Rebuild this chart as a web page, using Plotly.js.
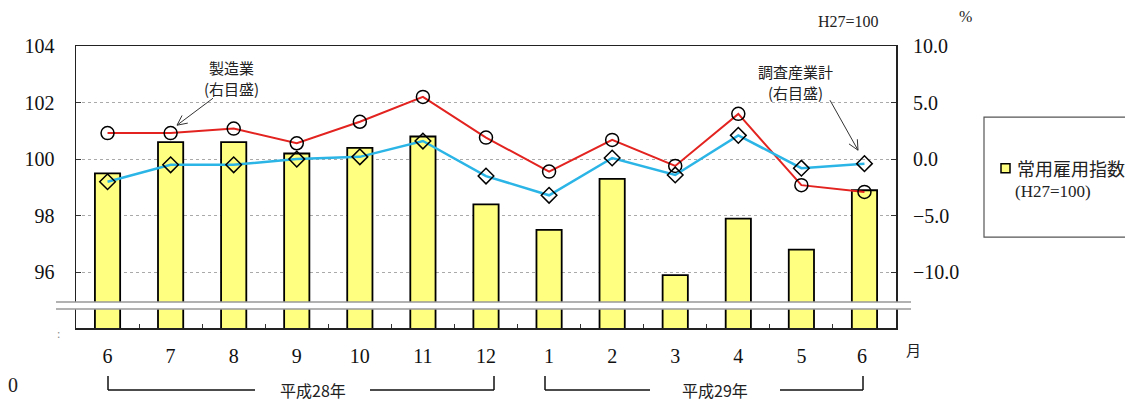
<!DOCTYPE html>
<html>
<head>
<meta charset="utf-8">
<script src="https://cdn.plot.ly/plotly-3.0.1.min.js"></script>
<style>html,body{margin:0;padding:0;background:#fff;}#chart{width:1125px;height:401px;}</style>
</head>
<body>
<div id="chart"></div>
<script>
// ---- data ----
var months = ["6", "7", "8", "9", "10", "11", "12", "1", "2", "3", "4", "5", "6 "];
var employmentIndex = [99.5, 100.6, 100.6, 100.2, 100.4, 100.8, 98.4, 97.5, 99.3, 95.9, 97.9, 96.8, 98.9];
var manufacturing = [2.3, 2.3, 2.7, 1.4, 3.3, 5.5, 1.9, -1.1, 1.7, -0.6, 4.0, -2.3, -2.9];
var allIndustries = [-2.0, -0.5, -0.5, 0.0, 0.2, 1.6, -1.5, -3.2, 0.1, -1.4, 2.1, -0.8, -0.4];
var leftTicks = [96, 98, 100, 102, 104];
var rightTicks = [-10, -5, 0, 5, 10];
var yearLabels = ["平成28年", "平成29年"];
var legendName = "常用雇用指数";
var legendBase = "(H27=100)";

// ---- geometry helpers (pixel -> paper) ----
var L = 76, R = 896, T = 45.7, B = 328;
function px(x) { return (x - L) / (R - L); }
function py(y) { return (B - y) / (B - T); }

var serif = "Liberation Serif, Times New Roman, serif";
var cjk = "Noto Sans CJK JP, sans-serif";

var traces = [
  {
    type: "bar", x: months, y: employmentIndex, yaxis: "y",
    width: 0.4,
    marker: {color: "#FFFF80", line: {color: "#000", width: 1.8}},
    showlegend: false, hoverinfo: "skip"
  },
  {
    type: "scatter", mode: "lines+markers", x: months, y: manufacturing, yaxis: "y2",
    line: {color: "#E2231F", width: 2},
    marker: {symbol: "circle-open", size: 13, color: "#000", line: {color: "#111", width: 1.5}},
    showlegend: false, hoverinfo: "skip"
  },
  {
    type: "scatter", mode: "lines+markers", x: months, y: allIndustries, yaxis: "y2",
    line: {color: "#2BB5E6", width: 2.5},
    marker: {symbol: "diamond-open", size: 12, color: "#000", line: {color: "#111", width: 1.5}},
    showlegend: false, hoverinfo: "skip"
  }
];

var shapes = [];
function seg(x0, y0, x1, y1, color, width) {
  shapes.push({type: "line", xref: "paper", yref: "paper", x0: px(x0), x1: px(x1), y0: py(y0), y1: py(y1),
    line: {color: color || "#111", width: width || 1.5}});
}
// axis break band
shapes.push({type: "rect", xref: "paper", yref: "paper", x0: px(56), x1: px(911), y0: py(309), y1: py(302),
  fillcolor: "#fff", line: {width: 0}, layer: "above"});
shapes.push({type: "line", xref: "paper", yref: "paper", x0: px(56), x1: px(911), y0: py(302), y1: py(302),
  line: {color: "#999", width: 1.5}, layer: "above"});
shapes.push({type: "line", xref: "paper", yref: "paper", x0: px(56), x1: px(911), y0: py(309), y1: py(309),
  line: {color: "#999", width: 1.5}, layer: "above"});
// year brackets
seg(108, 376, 108, 390); seg(108, 390, 255, 390);
seg(370, 390, 494, 390); seg(494, 390, 494, 376);
seg(545, 376, 545, 390); seg(545, 390, 650, 390);
seg(780, 390, 863, 390); seg(863, 390, 863, 376);
// callout arrows with open V heads
function arrow(tx, ty, hx, hy) {
  seg(tx, ty, hx, hy, "#333", 1);
  var dx = tx - hx, dy = ty - hy, len = Math.sqrt(dx * dx + dy * dy);
  dx /= len; dy /= len;
  var a = 0.45, h = 11;
  [a, -a].forEach(function (t) {
    var rx = dx * Math.cos(t) - dy * Math.sin(t), ry = dx * Math.sin(t) + dy * Math.cos(t);
    seg(hx, hy, hx + rx * h, hy + ry * h, "#333", 1);
  });
}
arrow(213, 98, 177, 125);
arrow(830, 100, 858, 150);
// legend box
shapes.push({type: "rect", xref: "paper", yref: "paper", x0: px(984), x1: px(1135), y0: py(237), y1: py(117),
  fillcolor: "rgba(0,0,0,0)", line: {color: "#555", width: 1.2}});
shapes.push({type: "rect", xref: "paper", yref: "paper", x0: px(1001), x1: px(1010), y0: py(172.5), y1: py(163.5),
  fillcolor: "#FFFF80", line: {color: "#000", width: 1.5}});

function txt(x, y, text, family, size, extra) {
  var a = {xref: "paper", yref: "paper", x: px(x), y: py(y), text: text, showarrow: false,
    xanchor: "center", yanchor: "middle", font: {family: family, size: size, color: "#222"}};
  if (extra) for (var k in extra) a[k] = extra[k];
  return a;
}

var annotations = [
  txt(231, 67, "製造業", cjk, 15),
  txt(231, 88.5, "(右目盛)", cjk, 15),
  txt(795, 71, "調査産業計", cjk, 15),
  txt(795, 92.5, "(右目盛)", cjk, 15),
  txt(848, 21, "H27=100", serif, 16),
  txt(965, 16, "%", serif, 16),
  txt(913, 350, "月", cjk, 15),
  txt(313, 390, yearLabels[0], cjk, 16),
  txt(715, 390, yearLabels[1], cjk, 16),
  txt(13, 385, "0", serif, 20),
  txt(58, 334, ":", serif, 12, {font: {family: serif, size: 12, color: "#888"}}),
  txt(1015, 168, legendName, cjk, 18, {xanchor: "left"}),
  txt(1013, 191, legendBase, serif, 17, {xanchor: "left"})
];

var layout = {
  width: 1125, height: 401,
  margin: {l: L, r: 1125 - R, t: T, b: 401 - B, pad: 0},
  paper_bgcolor: "#fff", plot_bgcolor: "#fff",
  showlegend: false,
  xaxis: {
    type: "category", range: [-0.5, 12.5], fixedrange: true,
    showline: true, mirror: true, linecolor: "#222", linewidth: 1.5,
    ticks: "inside", tickson: "boundaries", ticklen: 4, tickcolor: "#333",
    showgrid: false, ticklabelstandoff: 9,
    tickfont: {family: serif, size: 20, color: "#111"}
  },
  yaxis: {
    range: [94.03, 104], tickvals: leftTicks, ticktext: leftTicks.map(String),
    showline: true, mirror: true, linecolor: "#222", linewidth: 1.5,
    ticks: "inside", ticklen: 5, tickcolor: "#333",
    showgrid: true, gridcolor: "#aaa", griddash: "dot", gridwidth: 1,
    zeroline: false, ticklabelstandoff: 16,
    tickfont: {family: serif, size: 20, color: "#111"}
  },
  yaxis2: {
    overlaying: "y", side: "right", range: [-14.93, 10],
    tickvals: rightTicks, tickformat: ".1f",
    ticks: "inside", ticklen: 5, tickcolor: "#333",
    showgrid: false, zeroline: false, showline: false, ticklabelstandoff: 16,
    tickfont: {family: serif, size: 20, color: "#111"}
  },
  shapes: shapes,
  annotations: annotations
};

Plotly.newPlot("chart", traces, layout, {staticPlot: true, displayModeBar: false});
</script>
</body>
</html>
